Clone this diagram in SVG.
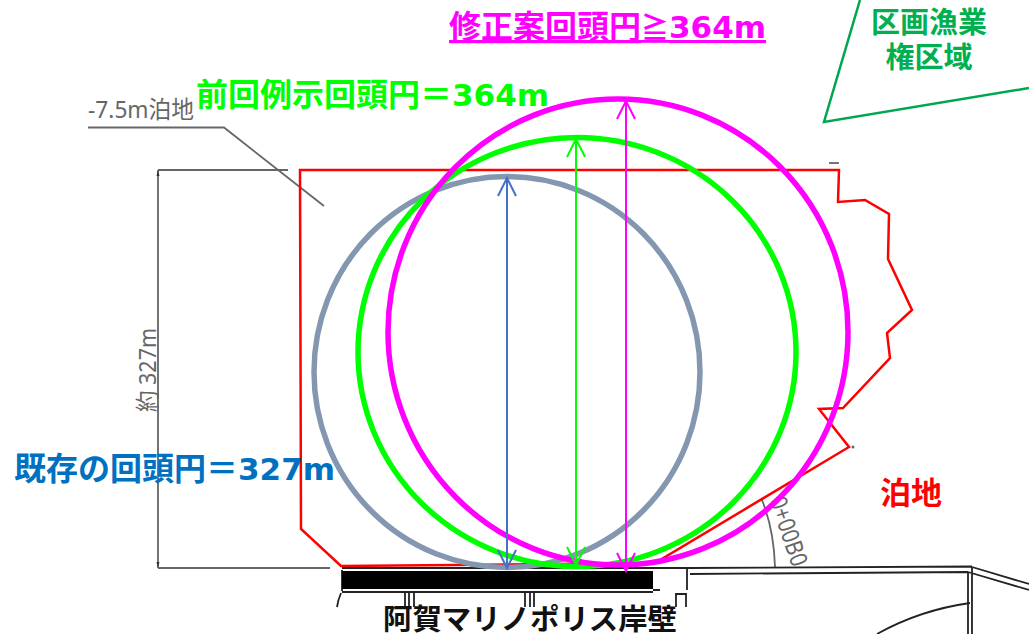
<svg xmlns="http://www.w3.org/2000/svg" width="1029" height="634" viewBox="0 0 1029 634">
<style>
.lb{font-weight:700;font-size:32px;font-family:"Noto Sans CJK JP","Noto Sans",sans-serif}
.la{font-family:"DejaVu Sans",sans-serif;font-weight:700;font-size:31px}
.dr{fill:none;stroke:#666;stroke-width:1.800}
.bk{fill:none;stroke:#222;stroke-width:1.800}
.gt{fill:#666;font-family:"Noto Sans","Noto Sans CJK JP",sans-serif;font-size:24px}
.c{fill:none;stroke-width:5.500}
</style>
<defs>
<marker id="ab" markerUnits="userSpaceOnUse" markerWidth="22" markerHeight="20" refX="20" refY="10" orient="auto-start-reverse"><path d="M2 1L20 10L2 19" fill="none" stroke="#4472C4" stroke-width="2"/></marker>
<marker id="ag" markerUnits="userSpaceOnUse" markerWidth="22" markerHeight="20" refX="20" refY="10" orient="auto-start-reverse"><path d="M2 1L20 10L2 19" fill="none" stroke="#00FF00" stroke-width="2"/></marker>
<marker id="am" markerUnits="userSpaceOnUse" markerWidth="22" markerHeight="20" refX="20" refY="10" orient="auto-start-reverse"><path d="M2 1L20 10L2 19" fill="none" stroke="#FF00FF" stroke-width="2"/></marker>
</defs>
<rect width="1029" height="634" fill="#fff"/>
<g id="drawing">
<path class="dr" d="M88 127.500H224L324 206"/>
<path class="dr" d="M158 170H288M158 170V568M158 568H330"/>
<path d="M158 170l-1.500 6h3zM158 568l-1.500-6h3z" fill="#333"/>
<text class="gt" x="88" y="118" textLength="106" lengthAdjust="spacingAndGlyphs">-7.5m泊地</text>
<text class="gt" transform="translate(156,412) rotate(-90)" textLength="84" lengthAdjust="spacingAndGlyphs">約 327m</text>
<text class="gt" transform="translate(769,500) rotate(71)" textLength="72" lengthAdjust="spacingAndGlyphs">0+00B0</text>
<path class="dr" d="M762 500Q774 530 775 567"/>
<path class="dr" d="M829 163H839" stroke-width="1"/>
<circle cx="853" cy="447" r="1.500" fill="#666"/>
<path class="bk" d="M653 568H690L972 566.500M690 574L968 572M968 572V634M972 567V634M972 567L1029 584M968 572L1029 590M877 634Q920 610 970 603"/>
<path class="bk" d="M342 568H655M342 570V591M342 592H653M341 593Q338 600 337 607M405 593V607M409 593V607M414 593V607M525 593V607M530 593V607M534 593V607M687 568V590M676 607V594H686V607M653 590H660"/>
<rect x="342" y="571" width="311" height="18" fill="#000"/>
</g>
<g id="anchorage-area">
<path d="M300 170H839L838 202L865 200L889 214L888 259L912 310L887 333L890 358L843 408L819 409L849 447L655 563L341 566L301 529Z" fill="none" stroke="#f00" stroke-width="2.500"/>
<text x="880" y="504" class="lb" fill="#f00" style="font-size:31px">泊地</text>
</g>
<g id="fishery-zone">
<path d="M860 0L824 122L1029 88" fill="none" stroke="#00A651" stroke-width="2.500"/>
<text class="lb" style="font-size:29px" fill="#00B050" text-anchor="middle"><tspan x="929" y="33">区画漁業</tspan><tspan x="929" y="68">権区域</tspan></text>
</g>
<g id="circle-existing"><ellipse class="c" cx="507" cy="372" rx="193" ry="195.500" stroke="#8497B0"/>
<text class="lb" x="14" y="480" fill="#0070C0">既存の回頭円＝<tspan class="la">327m</tspan></text></g>
<g id="circle-previous"><ellipse class="c" cx="577" cy="352" rx="219" ry="214.500" stroke="#00FF00"/>
<text class="lb" x="196" y="106" fill="#00FF00">前回例示回頭円＝<tspan class="la">364m</tspan></text></g>
<g id="circle-revised"><ellipse class="c" cx="618" cy="332" rx="230" ry="233" stroke="#FF00FF"/>
<text class="lb" x="449" y="38" fill="#FF00FF" text-decoration="underline">修正案回頭円<tspan style="font-size:28px">≧</tspan><tspan class="la">364m</tspan></text></g>
<g id="connectors">
<path d="M507 568V178" stroke="#4472C4" stroke-width="2" fill="none" marker-start="url(#ab)" marker-end="url(#ab)"/>
<path d="M576 565V139" stroke="#00FF00" stroke-width="2" fill="none" marker-start="url(#ag)" marker-end="url(#ag)"/>
<path d="M626 571V101" stroke="#FF00FF" stroke-width="2" fill="none" marker-start="url(#am)" marker-end="url(#am)"/>
</g>
<g id="quay">
<text class="lb" style="font-size:29px" fill="#111" x="383" y="630" textLength="294" lengthAdjust="spacingAndGlyphs">阿賀マリノポリス岸壁</text>
</g>
</svg>
